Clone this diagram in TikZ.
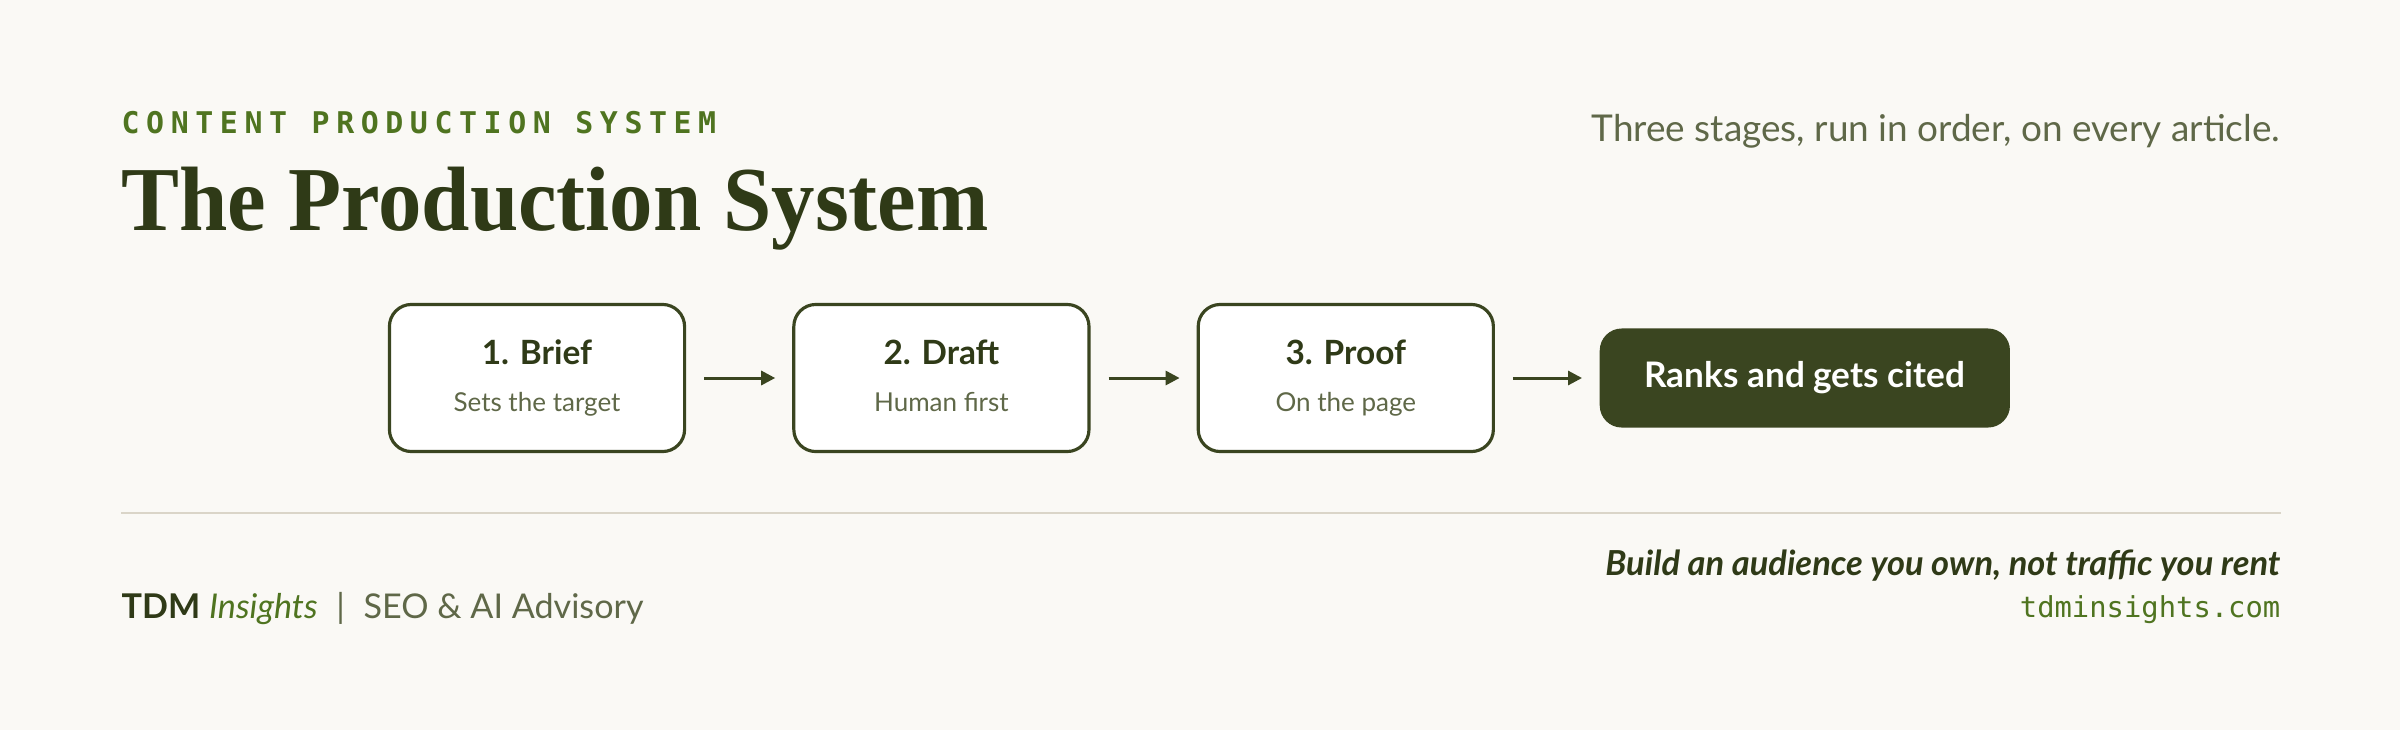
\documentclass[tikz,border=0pt]{standalone}
\usepackage{fontspec}
\setmainfont{Lato}
\setmonofont{DejaVu Sans Mono}
\newfontfamily\titlefont{Liberation Serif}
\usetikzlibrary{positioning,arrows.meta}
\definecolor{paper}{HTML}{FAF9F5}
\definecolor{ink}{HTML}{2F3A17}
\definecolor{moss}{HTML}{3A4520}
\definecolor{leaf}{HTML}{4F7420}
\definecolor{sage}{HTML}{5F6848}
\definecolor{rulegray}{HTML}{DAD5C8}
\newcommand{\stagetext}[2]{{\fontsize{9.5}{12}\selectfont\bfseries\color{ink}#1}\\[1.5pt]{\fontsize{7.4}{9}\selectfont\color{sage}#2\vphantom{Tg}}}

\begin{document}
\begin{tikzpicture}[x=0.01cm,y=-0.01cm,
  stage/.style={draw=moss,line width=0.9pt,rounded corners=0.22cm,fill=white,align=center,minimum width=2.95cm,minimum height=1.47cm,inner sep=0pt},
  goal/.style={fill=moss,rounded corners=0.22cm,minimum width=4.1cm,minimum height=0.99cm,text=white,font=\bfseries\fontsize{10}{12}\selectfont},
  flow/.style={-{Triangle[length=0.14cm,width=0.14cm]},draw=moss,line width=0.85pt,shorten <=0.18cm,shorten >=0.17cm},
  txt/.style={inner sep=0pt},
  node distance=1.06cm]
\fill[paper] (0,0) rectangle (2400,730);
% heading
\node[txt,anchor=base west,text=leaf,font=\ttfamily\bfseries\fontsize{8.5}{10}\selectfont\addfontfeature{LetterSpace=22}] (kicker) at (121,133) {CONTENT PRODUCTION SYSTEM};
\node[txt,anchor=base west,text=ink,font=\titlefont\bfseries\fontsize{26}{32}\selectfont] (title) at (121,230) {\scalebox{0.95}[1]{The Production System}};
\node[txt,anchor=base east,text=sage,font=\fontsize{10.5}{12}\selectfont] (lede) at (2281,141) {Three stages, run in order, on every article.};
% stages
\node[stage] (brief) at (537,378) {\stagetext{1. Brief}{Sets the target}};
\node[stage,right=of brief] (draft) {\stagetext{2. Draft}{Human first}};
\node[stage,right=of draft] (proof) {\stagetext{3. Proof}{On the page}};
\node[goal,right=1.04cm of proof] (cited) {Ranks and gets cited};
\draw[flow] (brief)--(draft);\draw[flow] (draft)--(proof);\draw[flow] (proof)--(cited);
% footer
\draw[rulegray,line width=0.5pt] (121,513)--(2281,513);
\node[txt,anchor=base west,font=\fontsize{9.7}{12}\selectfont] (brand) at (121,618) {{\bfseries\color{ink}TDM} {\itshape\color{leaf}Insights}\hspace{0.55em}{\color{sage}|}\hspace{0.55em}{\color{sage}SEO \& AI Advisory}};
\node[txt,anchor=base east,text=ink,font=\bfseries\itshape\fontsize{9.8}{12}\selectfont] (motto) at (2281,575) {Build an audience you own, not traffic you rent};
\node[txt,anchor=base east,text=leaf,font=\ttfamily\fontsize{8.2}{10}\selectfont] (site) at (2281,617) {tdminsights.com};
\end{tikzpicture}
\end{document}
